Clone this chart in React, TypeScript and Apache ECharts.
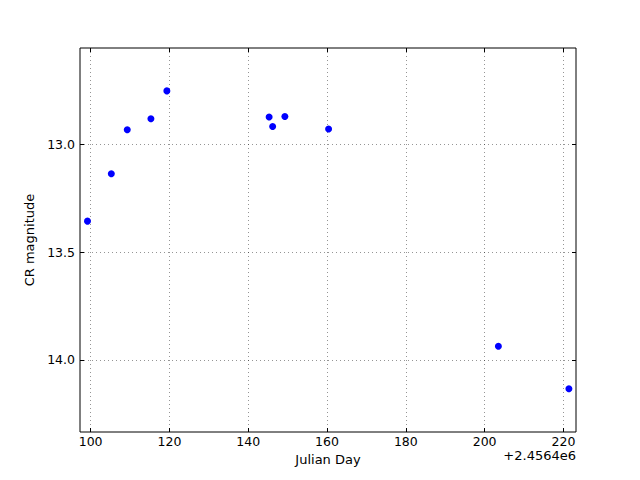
import React, { useEffect, useRef } from "react";
import * as echarts from "echarts";

const julianDays = [99.2, 105.25, 109.3, 115.3, 119.35, 145.3, 146.2, 149.3, 160.4, 203.5, 221.4];
const magnitudes = [13.356, 13.136, 12.932, 12.881, 12.752, 12.873, 12.917, 12.871, 12.929, 13.936, 14.133];
const xTicks = [100, 120, 140, 160, 180, 200, 220];
const yTicks = [13.0, 13.5, 14.0];
const xOffsetLabel = "+2.4564e6";

const FONT = "DejaVu Sans";

export default function App() {
  const ref = useRef<HTMLDivElement>(null);
  useEffect(() => {
    document.body.style.margin = "0";
    const chart = echarts.init(ref.current!, null, { renderer: "svg" });
    const xBase = {
      type: "value",
      min: 97.3,
      max: 223.2,
      axisLine: { show: false },
      axisTick: { show: true, inside: true, length: 4, customValues: xTicks, lineStyle: { color: "#000" } },
      splitLine: { show: false },
    };
    const yBase = {
      type: "value",
      min: 12.553,
      max: 14.334,
      inverse: true,
      axisLine: { show: false },
      axisTick: { show: true, inside: true, length: 4, customValues: yTicks, lineStyle: { color: "#000" } },
      splitLine: { show: false },
    };
    chart.setOption({
      animation: false,
      backgroundColor: "#fff",
      grid: { left: 80, right: 64, top: 48, bottom: 48, show: true, borderColor: "#000", borderWidth: 1, backgroundColor: "#fff", containLabel: false },
      xAxis: [
        {
          ...xBase,
          position: "bottom",
          name: "Julian Day",
          nameLocation: "middle",
          nameGap: 19,
          nameTextStyle: { fontFamily: FONT, fontSize: 13, color: "#000", lineHeight: 14 },
          splitLine: { show: true, lineStyle: { color: "#000", type: [1, 3], width: 0.6, opacity: 0.7 } },
          axisLabel: { show: true, customValues: xTicks, margin: 3, fontFamily: FONT, fontSize: 12.5, lineHeight: 12, color: "#000", formatter: (v: number) => String(Math.round(v)) },
        },
        { ...xBase, position: "top", axisLabel: { show: false } },
      ],
      yAxis: [
        {
          ...yBase,
          position: "left",
          name: "CR magnitude",
          nameLocation: "middle",
          nameGap: 34,
          nameRotate: 90,
          nameTextStyle: { fontFamily: FONT, fontSize: 13, color: "#000" },
          splitLine: { show: true, lineStyle: { color: "#000", type: [1, 3], width: 0.6, opacity: 0.7 } },
          axisLabel: { show: true, customValues: yTicks, margin: 5, fontFamily: FONT, fontSize: 12.5, color: "#000", formatter: (v: number) => v.toFixed(1) },
        },
        { ...yBase, position: "right", axisLabel: { show: false } },
      ],
      graphic: [
        {
          type: "text",
          right: 64,
          top: 449,
          style: { text: xOffsetLabel, fontFamily: FONT, fontSize: 13, lineHeight: 13, fill: "#000" },
        },
      ],
      series: [
        {
          type: "scatter",
          xAxisIndex: 0,
          yAxisIndex: 0,
          symbol: "circle",
          symbolSize: 7,
          itemStyle: { color: "#0000ff", opacity: 1 },
          data: julianDays.map((d, i) => [d, magnitudes[i]]),
        },
      ],
    });
    return () => chart.dispose();
  }, []);
  return <div ref={ref} style={{ width: 640, height: 480 }} />;
}
